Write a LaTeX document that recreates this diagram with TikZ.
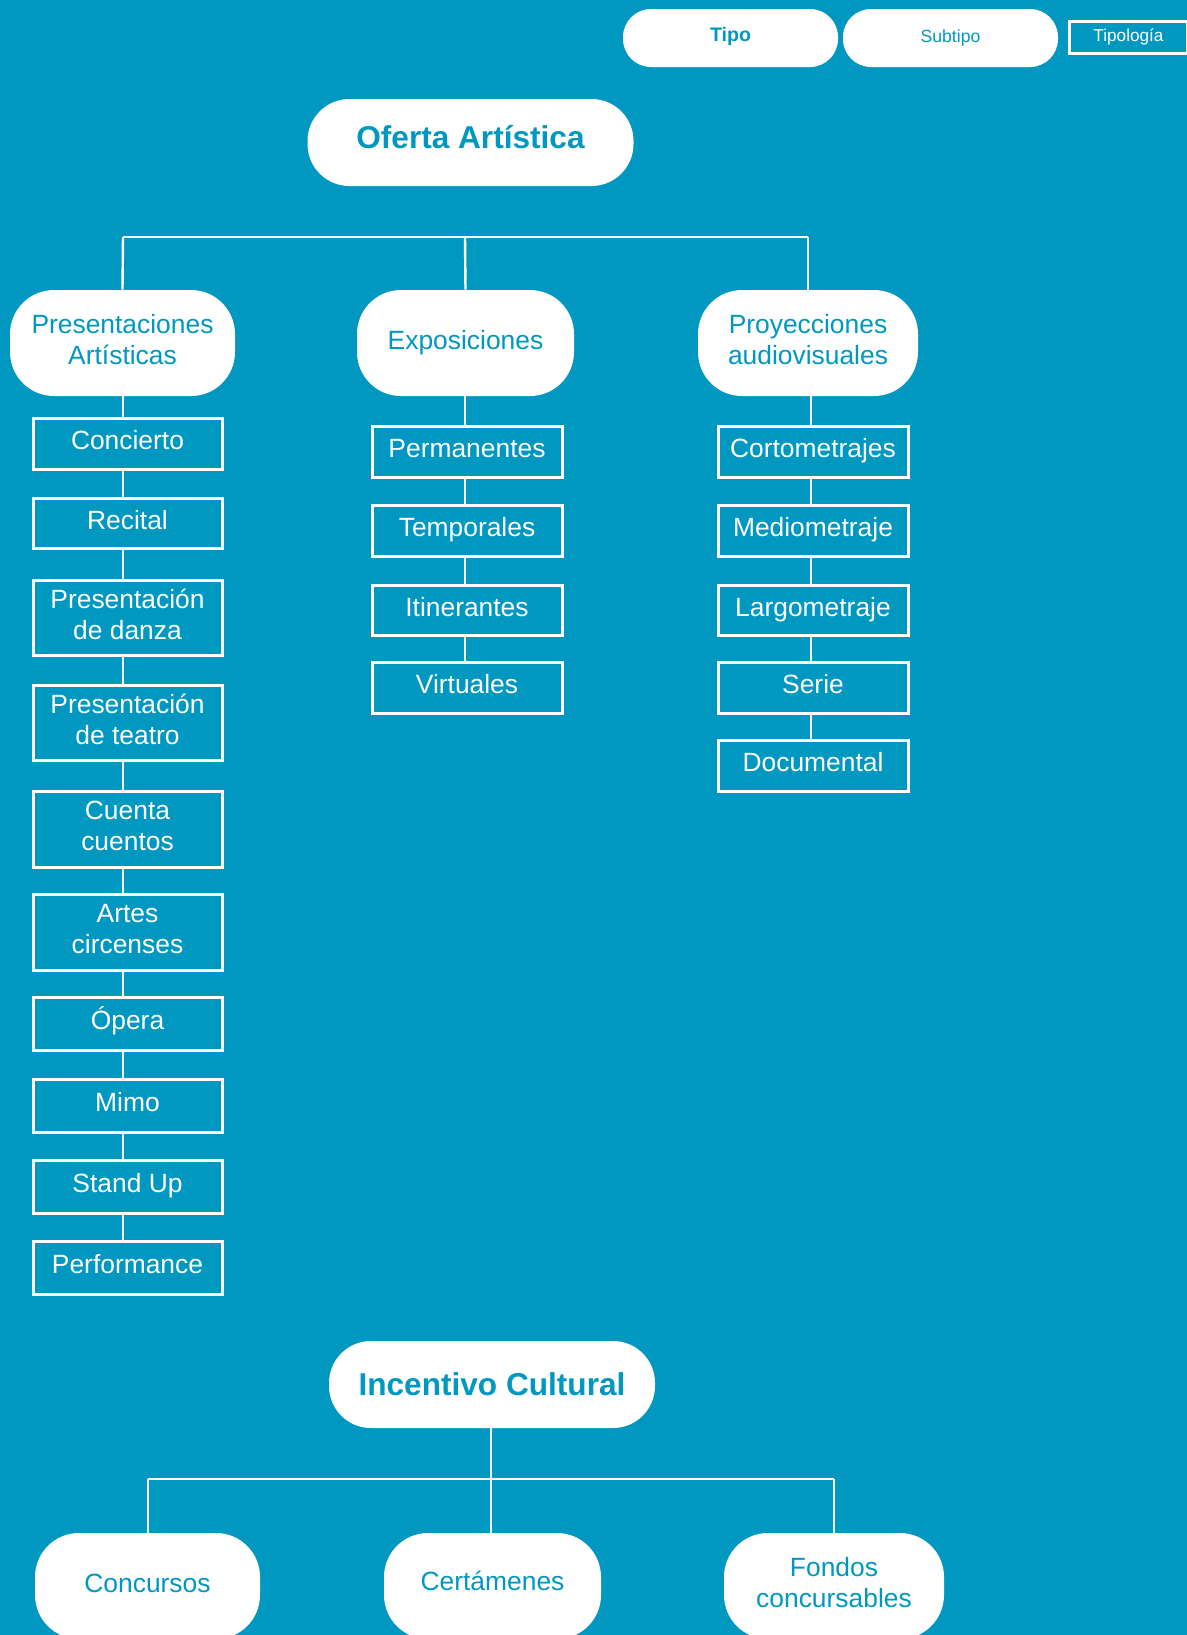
\documentclass[tikz,border=0pt]{standalone}
\usepackage{fontspec}
\setmainfont{Liberation Sans}
\definecolor{bgteal}{RGB}{0,152,192}
\newcommand\twoline[2]{\begin{tabular}{@{}c@{}}#1\\#2\end{tabular}}
\begin{document}
\begin{tikzpicture}[x=0.5pt,y=-0.5pt,
  conn/.style={draw=white,line width=1.2pt},
  pill/.style={fill=white,draw=none,rounded corners=22pt,text=bgteal,align=center,
    font=\fontsize{13.2}{15.6}\selectfont,inner sep=0pt,minimum width=#1,minimum height=53pt,
    text height=10pt,text depth=3.74pt},
  toppill/.style={fill=white,draw=none,rounded corners=21pt,text=bgteal,align=center,
    font=\fontsize{15.8}{18}\selectfont\bfseries,inner sep=0pt,minimum width=163pt,minimum height=43.5pt},
  tbox/.style={draw=white,line width=1.5pt,text=white,align=center,
    font=\fontsize{13.2}{15.6}\selectfont,inner sep=0pt,minimum width=94.5pt,minimum height=#1,
    text height=10pt,text depth=3.74pt},
  tbox/.default=25.5pt,
  multi/.style={text height=,text depth=},
  legpill/.style={fill=white,draw=none,rounded corners=14pt,text=bgteal,inner sep=0pt,
    minimum width=107.5pt,minimum height=29pt}
]
\fill[bgteal] (0,0) rectangle (1187,1635);
\useasboundingbox (0,0) rectangle (1187,1635);
\begin{scope}
\clip (0,0) rectangle (1187,1635);
% legend
\node[legpill,font=\fontsize{9.8}{11}\selectfont\bfseries] (ltipo) at (730.5,38) {\raisebox{0.8pt}[\height][\depth]{Tipo}};
\node[legpill,font=\fontsize{8.8}{10}\selectfont] (lsub) at (950.5,38) {Subtipo};
\node[draw=white,line width=1.5pt,text=white,inner sep=0pt,minimum width=59pt,minimum height=16pt,
  font=\fontsize{8.6}{10}\selectfont] (ltip) at (1128.5,37) {Tipología};

% Oferta Artistica
\node[toppill] (oa) at (470.5,142.5) {\raisebox{2.6pt}[\height][\depth]{Oferta Artística}};
\coordinate (h1) at (123,237);
\coordinate (h2) at (465,237);
\coordinate (h3) at (808,237);
\node[pill=112.5pt,multi] (pa) at (122.5,343) {\twoline{Presentaciones}{Artísticas}};
\node[pill=108.5pt] (ex) at (465.5,343) {Exposiciones};
\node[pill=110pt,multi] (pr) at (808,343) {\twoline{Proyecciones}{audiovisuales}};
\draw[conn] (h1) -- (h3);
\draw[conn] (h1) -- (pa.north);
\draw[conn] (h2) -- (ex.north);
\draw[conn] (h3) -- (pr.north);

% Presentaciones column
\node[tbox] (p1) at (127.5,443.5) {Concierto};
\node[tbox=25pt] (p2) at (127.5,523) {Recital};
\node[tbox=37.5pt,multi] (p3) at (127.5,617.5) {\twoline{Presentación}{de danza}};
\node[tbox=37.5pt,multi] (p4) at (127.5,722.5) {\twoline{Presentación}{de teatro}};
\node[tbox=38pt,multi] (p5) at (127.5,829) {\twoline{Cuenta}{cuentos}};
\node[tbox=38pt,multi] (p6) at (127.5,932) {\twoline{Artes}{circenses}};
\node[tbox=26.5pt] (p7) at (127.5,1023.5) {Ópera};
\node[tbox=26.5pt] (p8) at (127.5,1105.5) {Mimo};
\node[tbox=26.5pt] (p9) at (127.5,1186.5) {Stand Up};
\node[tbox=26.5pt] (p10) at (127.5,1267.5) {Performance};
\draw[conn] (pa.south -| h1) -- (p1.north -| h1);
\foreach \a/\b in {p1/p2,p2/p3,p3/p4,p4/p5,p5/p6,p6/p7,p7/p8,p8/p9,p9/p10}
  \draw[conn] (\a.south -| h1) -- (\b.north -| h1);

% Exposiciones column
\coordinate (ex0) at (465,396);
\node[tbox,minimum width=95pt] (e1) at (467,451.5) {Permanentes};
\node[tbox,minimum width=95pt] (e2) at (467,530.5) {Temporales};
\node[tbox=25pt,minimum width=95pt] (e3) at (467,610) {Itinerantes};
\node[tbox,minimum width=95pt] (e4) at (467,687.5) {Virtuales};
\draw[conn] (ex.south -| ex0) -- (e1.north -| ex0);
\foreach \a/\b in {e1/e2,e2/e3,e3/e4}
  \draw[conn] (\a.south -| ex0) -- (\b.north -| ex0);

% Proyecciones column
\coordinate (pr0) at (811,396);
\node[tbox,minimum width=95pt] (r1) at (813,451.5) {Cortometrajes};
\node[tbox,minimum width=95pt] (r2) at (813,530.5) {Mediometraje};
\node[tbox=25pt,minimum width=95pt] (r3) at (813,610) {Largometraje};
\node[tbox,minimum width=95pt] (r4) at (813,687.5) {Serie};
\node[tbox,minimum width=95pt] (r5) at (813,765.5) {Documental};
\draw[conn] (pr.south -| pr0) -- (r1.north -| pr0);
\foreach \a/\b in {r1/r2,r2/r3,r3/r4,r4/r5}
  \draw[conn] (\a.south -| pr0) -- (\b.north -| pr0);

% Incentivo Cultural
\node[toppill] (ic) at (492,1384.5) {Incentivo Cultural};
\coordinate (g1) at (148,1479);
\coordinate (g2) at (491,1479);
\coordinate (g3) at (834,1479);
\node[pill=112.5pt] (ic1) at (147.5,1586) {Concursos};
\node[pill=108.5pt] (ic2) at (492.5,1586) {\raisebox{1pt}{Certámenes}};
\node[pill=110pt,multi] (ic3) at (834,1586) {\twoline{Fondos}{concursables}};
\draw[conn] (ic.south -| g2) -- (g2);
\draw[conn] (g1) -- (g3);
\draw[conn] (g1) -- (ic1.north -| g1);
\draw[conn] (g2) -- (ic2.north -| g2);
\draw[conn] (g3) -- (ic3.north -| g3);
\end{scope}
\end{tikzpicture}
\end{document}
